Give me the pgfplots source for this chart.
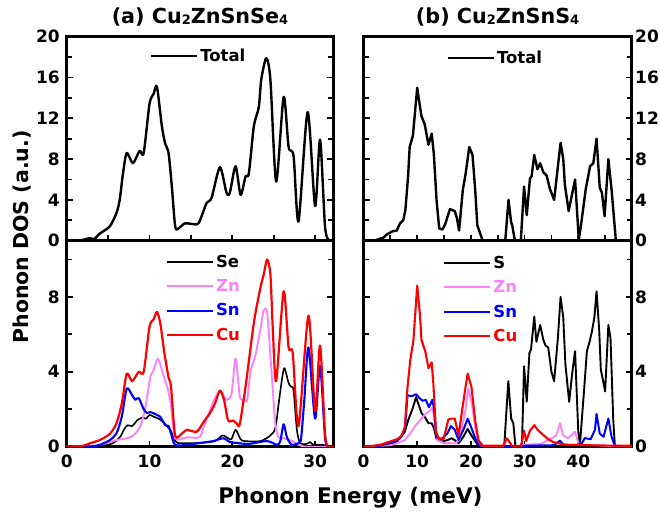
\documentclass[border=0pt]{standalone}
\usepackage{pgfplots}
\pgfplotsset{compat=1.18}
\usepackage{pgfplotstable}
\usepackage{fontspec}
\setmainfont{DejaVu Sans}
\definecolor{zncol}{RGB}{250,130,250}
\definecolor{sncol}{RGB}{0,0,255}
\definecolor{cucol}{RGB}{255,0,0}

% ---------- data ----------
\pgfplotstableread{
x y
0 0
1.0 0
1.8 0.05
2.8 0.25
3.3 0.15
4.0 0.7
5.2 1.4
6.0 2.7
6.4 4.0
6.8 6.6
7.25 8.6
8.0 7.6
8.8 8.8
9.3 8.6
10.0 13.4
10.5 14.4
10.9 15.1
11.5 11.2
11.9 9.5
12.3 8.6
12.7 5.3
13.1 1.4
13.5 1.2
14.3 1.7
15.7 1.6
16.1 2.0
16.9 3.7
17.5 4.2
18.5 7.2
19.3 4.7
19.7 4.7
20.4 7.3
21.0 4.5
21.6 6.3
22.0 6.6
22.6 11.2
23.2 13.1
23.5 15.8
24.1 17.9
24.6 15.8
25.3 5.8
26.2 14.1
26.8 9.2
27.4 8.3
28.0 1.9
29.1 12.6
30.0 3.4
30.6 9.9
31.2 1.4
31.7 0
32.2 0
}\totA
\pgfplotstableread{
x y
0 0
2.0 0
3.1 0.2
3.7 0.3
4.3 0.6
5.3 0.9
6.2 1.0
6.8 1.7
7.4 2.0
7.8 3.0
8.3 6.3
8.6 9.2
9.2 10.3
10.0 15.0
10.5 13.2
10.8 12.2
11.4 11.4
12.1 9.4
12.7 10.5
13.1 8.5
13.6 4.0
14.1 1.2
14.7 1.1
15.2 1.6
16.1 3.1
17.0 2.9
17.4 2.2
17.8 1.0
18.5 5.0
19.0 6.5
19.7 9.2
20.3 8.4
20.8 5.0
21.2 1.5
22.2 0
26.4 0
27.0 4.0
27.5 1.8
27.7 1.5
28.2 0
29.3 0
29.9 5.3
30.4 2.5
31.0 6.1
31.3 6.3
31.8 8.4
32.4 7.0
32.9 7.6
33.5 6.7
34.1 6.4
34.7 5.1
35.5 4.0
36.7 9.6
37.2 8.0
37.5 5.5
38.2 2.9
39.4 6.0
40.1 0.1
40.5 1.5
41.4 5.1
42.2 7.3
42.8 7.6
43.4 10.0
44.0 5.2
44.4 4.7
44.9 2.4
45.6 8.0
46.2 5.0
47.0 0
50 0
}\totB
% bottom-left partial DOS
\pgfplotstableread{
x y
0 0
2.0 0.05
2.8 0.18
4.0 0.36
5.2 0.68
6.0 1.24
6.65 2.3
7.25 3.9
7.9 3.5
8.7 4.0
9.3 4.0
10.0 6.4
10.5 6.8
10.9 7.2
11.3 6.6
11.8 5.0
12.3 3.7
12.6 3.2
13.1 0.6
13.9 0.7
14.5 0.9
15.7 0.8
16.5 1.3
17.3 1.8
17.9 2.3
18.5 3.0
19.0 2.5
19.5 1.4
20.1 1.4
20.6 1.2
20.9 1.2
21.6 3.2
22.6 6.6
23.4 8.5
23.8 9.2
24.2 10.0
24.6 9.2
24.9 6.2
25.3 3.5
26.2 8.3
26.8 5.3
27.3 5.0
28.0 1.1
29.2 7.0
30.0 1.9
30.6 5.4
31.2 0.7
31.6 0
32.2 0
}\cuA
\pgfplotstableread{
x y
0 0
3.0 0.05
4.0 0.1
6.0 0.35
7.25 0.45
8.05 0.6
8.9 1.1
9.5 2.1
10.1 3.7
10.5 4.1
11.0 4.7
11.5 4.1
11.9 3.5
12.2 3.1
12.6 2.2
13.1 0.45
14.5 0.5
16.0 0.5
16.5 1.0
17.1 1.7
17.9 2.6
18.5 2.95
19.0 2.7
19.3 2.5
19.9 2.8
20.4 4.7
20.9 2.7
21.3 2.5
21.8 2.5
22.2 4.0
22.8 4.9
23.4 6.3
23.8 7.3
24.2 7.2
24.5 5.5
24.9 3.0
25.2 1.2
25.6 0.5
26.2 0.45
27.0 0.35
28.0 0.1
29.0 0
32.2 0
}\znA
\pgfplotstableread{
x y
0 0
3.0 0.02
4.0 0.1
5.2 0.35
6.0 0.7
6.65 1.6
7.25 3.1
7.9 2.75
8.3 2.5
8.7 2.6
9.3 2.0
9.7 1.8
10.1 1.85
10.9 1.7
11.3 1.6
11.9 1.15
12.3 1.1
12.6 0.7
13.1 0.1
14.5 0.1
16.1 0.2
17.7 0.3
18.9 0.45
19.7 0.25
20.5 0.2
22.0 0.15
24.2 0.3
25.4 0.1
25.8 0.3
26.2 1.2
26.6 0.5
27.2 0.1
28.0 0.2
28.3 0.4
28.7 2.5
29.2 5.3
30.0 1.5
30.6 4.3
31.2 0.5
31.6 0
32.2 0
}\snA
\pgfplotstableread{
x y
0 0
5.0 0.1
6.4 0.5
6.9 0.9
7.35 1.15
7.9 1.1
8.5 1.4
9.1 1.55
9.6 1.5
10.0 1.7
10.5 1.6
11.1 1.5
11.7 1.3
12.1 1.1
12.5 0.9
13.0 0.45
13.4 0.2
16.0 0.2
17.9 0.3
18.8 0.6
19.5 0.45
19.9 0.4
20.4 0.9
21.0 0.4
21.5 0.3
23.4 0.3
24.6 0.6
25.2 1.0
25.6 2.3
26.0 3.6
26.3 4.2
26.8 3.4
27.1 3.2
27.4 3.0
27.8 0.9
28.2 0.2
29.0 0.15
29.4 0.25
29.8 0.1
31.0 0.1
31.5 0
32.2 0
}\seA
% bottom-right partial DOS
\pgfplotstableread{
x y
0 0
2.0 0.05
3.1 0.1
4.9 0.27
6.2 0.4
7.1 0.57
7.7 1.07
8.2 3.2
8.7 4.6
9.3 5.7
10.0 8.6
10.5 7.1
10.8 5.7
11.5 5.1
12.1 4.2
12.7 4.5
13.0 3.4
13.5 0.8
14.0 0.45
14.9 0.4
15.8 1.45
16.4 1.5
17.0 1.5
17.7 0.6
18.4 2.0
18.9 3.0
19.4 3.9
20.1 3.2
20.8 1.4
21.4 0.35
22.2 0.05
26.0 0.05
26.7 0.45
27.3 0.2
27.8 0
29.3 0
29.9 0.85
30.3 0.3
31.0 0.85
31.8 1.15
32.5 0.88
33.5 0.62
34.4 0.4
35.3 0.25
36.9 0.14
38.0 0.1
47.0 0.05
50 0.05
}\cuB
\pgfplotstableread{
x y
0 0
5.0 0.08
6.2 0.18
7.7 0.36
8.7 0.7
9.6 1.1
10.8 1.5
11.7 1.8
12.3 1.9
12.9 2.1
13.4 0.9
13.8 0.32
15.0 0.2
17.0 0.18
17.9 0.36
18.3 1.0
18.9 1.8
19.5 3.1
20.1 2.4
20.8 1.07
21.4 0.18
22.0 0
29.0 0
29.8 0.1
33.0 0.15
34.7 0.4
35.9 0.6
36.6 1.25
37.2 0.6
38.1 0.45
39.4 0.8
40.0 0.18
41.0 0.1
43.0 0.08
46.0 0.03
47 0
50 0
}\znB
\pgfplotstableread{
x y
0 0
3.0 0.05
5.0 0.2
6.2 0.3
7.1 0.6
7.7 0.9
8.2 2.75
9.0 2.7
9.8 2.8
10.4 2.6
11.0 2.45
11.6 2.5
12.2 2.1
12.8 2.5
13.1 2.1
13.6 0.53
14.5 0.4
15.6 0.7
16.3 1.1
17.0 0.9
17.7 0.36
18.6 0.9
19.4 1.5
20.1 1.0
20.8 0.45
21.4 0.1
22.5 0
29.0 0.02
30.0 0.05
35.5 0.08
36.6 0.32
37.2 0.1
40.0 0.1
40.7 0.2
41.2 0.46
42.3 0.4
43.1 0.9
43.4 1.75
44.0 0.7
44.7 0.53
45.6 1.5
46.2 0.53
46.8 0.05
50 0
}\snB
\pgfplotstableread{
x y
0 0
4.0 0.1
5.5 0.18
6.8 0.45
7.7 0.8
8.3 1.4
9.1 2.0
9.8 2.65
10.2 2.3
10.8 1.8
11.5 1.55
12.1 1.25
12.7 1.25
13.1 1.0
13.6 0.42
14.4 0.27
15.6 0.35
16.4 0.45
17.0 0.35
17.7 0.18
18.6 0.53
19.4 0.95
20.1 0.6
20.8 0.3
21.5 0
26.2 0
26.97 3.5
27.5 1.5
27.9 1.26
28.3 0
29.5 0
29.9 4.3
30.4 2.4
30.9 5.0
31.2 5.2
31.8 6.95
32.2 5.6
32.9 6.5
33.5 5.7
33.9 5.4
34.4 5.3
35.0 4.0
35.5 3.5
36.2 5.8
36.7 8.0
37.2 6.9
37.6 4.4
38.3 2.4
38.9 4.0
39.4 5.1
40.0 0.8
40.3 0.1
41.1 3.1
41.6 5.1
42.1 5.6
42.5 6.1
43.0 6.9
43.4 8.3
43.9 6.2
44.2 4.1
44.5 3.7
45.0 2.95
45.6 6.5
46.0 5.8
46.5 1.5
46.8 0.1
47.2 0
50 0
}\sB

\pgfplotsset{
  panel/.style={
    scale only axis,
    axis line style={line width=2.7pt},
    tick style={line width=1.8pt, black},
    tick align=inside,
    major tick length=6pt,
    minor tick length=5pt,
    xtick pos=lower,
    ytick pos=both,
    /pgf/number format/assume math mode=true,
    tick label style={font=\fontsize{17}{17}\selectfont\bfseries},
    xticklabel style={yshift=-5pt},
    legend style={draw=none, fill=none, inner sep=0pt, outer sep=0pt,
      font=\fontsize{16.5}{16.5}\selectfont\bfseries,
      row sep=6.7pt, column sep=0pt, cells={anchor=west}},
    legend image code/.code={\draw[##1] (0pt,0pt) -- (46pt,0pt);},
    every axis plot/.append style={line join=round},
  },
  toppanel/.style={panel, height=204pt, ymin=0, ymax=20,
    ytick={0,4,8,12,16,20}, minor ytick={2,6,10,14,18},
    xticklabels={}},
  botpanel/.style={panel, height=206pt, ymin=0, ymax=11,
    ytick={0,4,8}, minor ytick={2,6,10}},
}

\begin{document}
\begin{tikzpicture}[x=1pt,y=1pt]
\useasboundingbox (0,0) rectangle (660,515);
\clip (0,0) rectangle (660,515);

% top-left
\begin{axis}[toppanel, at={(66.7pt,274.3pt)}, anchor=south west,
  width=266.6pt, xmin=0, xmax=32.2, xtick={0,5,...,30},
  yticklabel pos=left, yticklabel style={xshift=-3.5pt},
  legend style={at={(rel axis cs:0.312,0.95)}, anchor=north west}]
\addplot[black, line width=2.4pt, smooth, tension=0.45] table {\totA};
\addlegendentry{Total}
\end{axis}

% bottom-left
\begin{axis}[botpanel, at={(66.7pt,68.3pt)}, anchor=south west,
  width=266.6pt, xmin=0, xmax=32.2, xtick={0,10,20,30},
  yticklabel pos=left, yticklabel style={xshift=-3.5pt},
  legend style={at={(rel axis cs:0.372,0.94)}, anchor=north west}]
\addplot[black, line width=1.6pt, smooth, tension=0.45] table {\seA};
\addlegendentry{Se}
\addplot[zncol, line width=1.9pt, smooth, tension=0.45] table {\znA};
\addlegendentry{\textcolor{zncol}{Zn}}
\addplot[sncol, line width=2.1pt, smooth, tension=0.45] table {\snA};
\addlegendentry{\textcolor{sncol}{Sn}}
\addplot[cucol, line width=2.2pt, smooth, tension=0.45] table {\cuA};
\addlegendentry{\textcolor{cucol}{Cu}}
\end{axis}

% top-right
\begin{axis}[toppanel, at={(363.5pt,274.3pt)}, anchor=south west,
  width=268.2pt, xmin=0, xmax=49.95, xtick={0,5,...,45},
  yticklabel pos=right,
  legend style={at={(rel axis cs:0.31,0.94)}, anchor=north west}]
\addplot[black, line width=2.4pt] table {\totB};
\addlegendentry{Total}
\end{axis}

% bottom-right
\begin{axis}[botpanel, at={(363.5pt,68.3pt)}, anchor=south west,
  width=268.2pt, xmin=0, xmax=49.95, xtick={0,10,20,30,40},
  yticklabel pos=right,
  legend style={at={(rel axis cs:0.2975,0.935)}, anchor=north west}]
\addplot[black, line width=1.9pt] table {\sB};
\addlegendentry{S}
\addplot[zncol, line width=1.9pt] table {\znB};
\addlegendentry{\textcolor{zncol}{Zn}}
\addplot[sncol, line width=2.0pt] table {\snB};
\addlegendentry{\textcolor{sncol}{Sn}}
\addplot[cucol, line width=2.1pt] table {\cuB};
\addlegendentry{\textcolor{cucol}{Cu}}
\end{axis}

% titles and axis labels
\node[anchor=base, font=\fontsize{20.7}{20.7}\selectfont\bfseries] at (200,491.7)
  {(a) Cu\raisebox{-1pt}{\fontsize{13}{13}\selectfont 2}ZnSnSe\raisebox{-1pt}{\fontsize{13}{13}\selectfont 4}};
\node[anchor=base, font=\fontsize{20.7}{20.7}\selectfont\bfseries] at (497.6,491.7)
  {(b) Cu\raisebox{-1pt}{\fontsize{13}{13}\selectfont 2}ZnSnS\raisebox{-1pt}{\fontsize{13}{13}\selectfont 4}};
\node[anchor=base, font=\fontsize{21.5}{21.5}\selectfont\bfseries] at (350.5,12)
  {Phonon Energy (meV)};
\node[anchor=base, rotate=90, font=\fontsize{20.5}{20.5}\selectfont\bfseries] at (28.3,278)
  {Phonon DOS (a.u.)};
\end{tikzpicture}
\end{document}
